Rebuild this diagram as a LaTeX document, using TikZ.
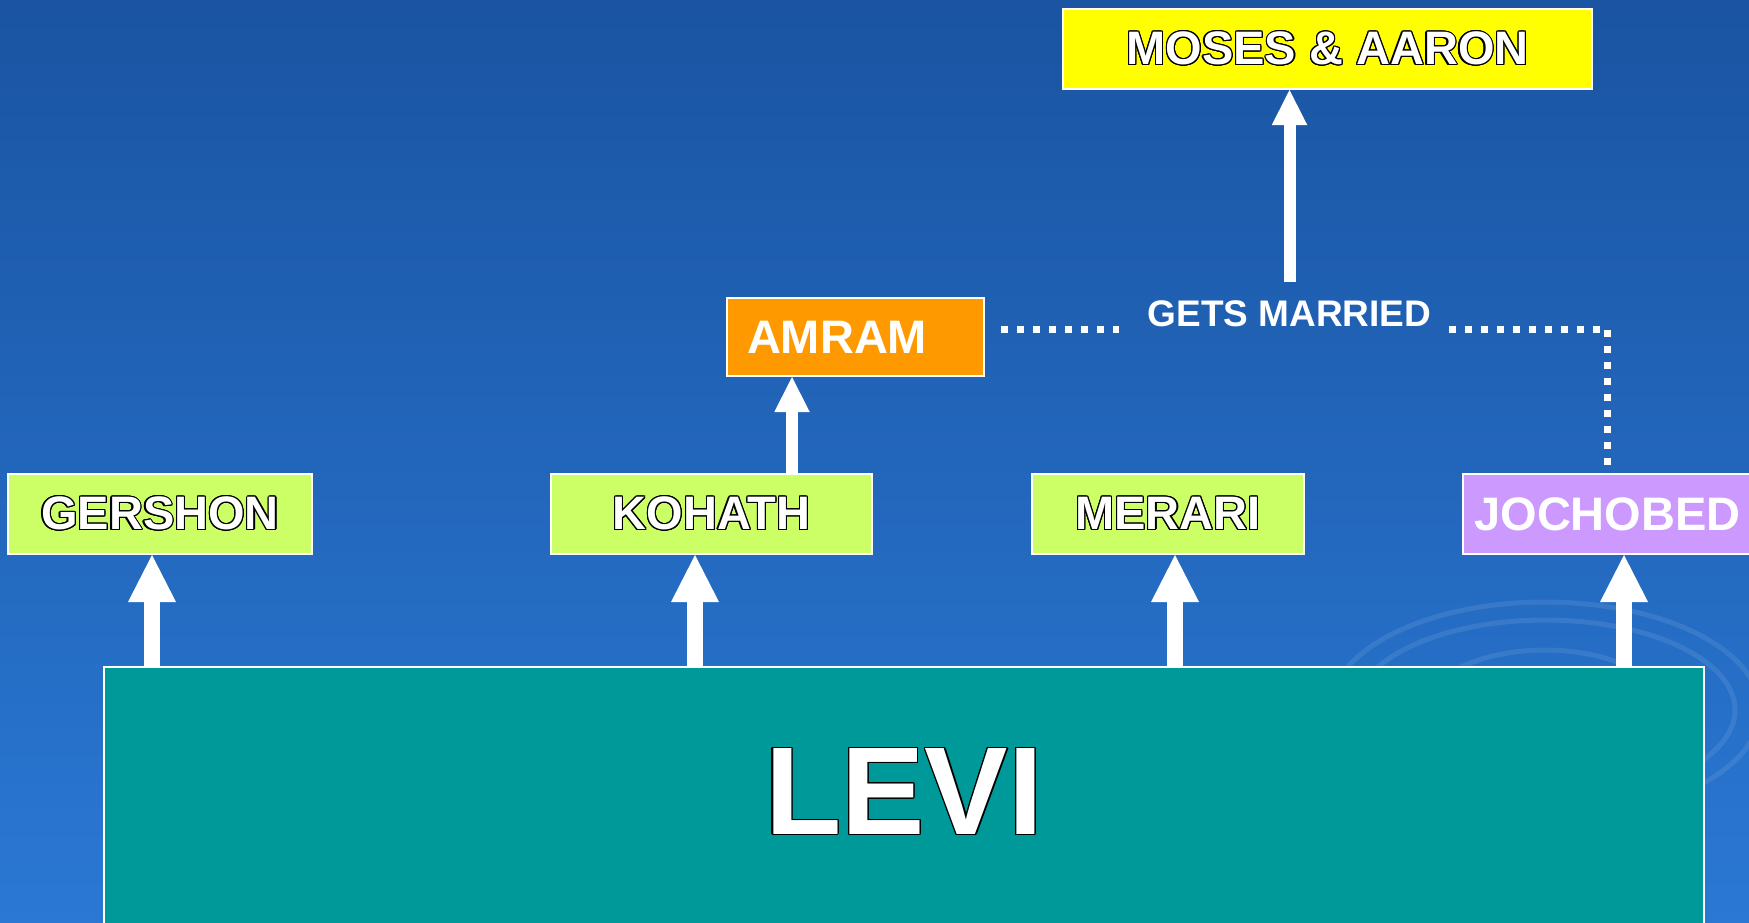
\documentclass[tikz,border=0pt]{standalone}
\usepackage{fontspec}
\setmainfont{Liberation Sans}
\usepackage[copies]{contour}
\contourlength{0.6pt}
\usetikzlibrary{positioning,arrows.meta,calc}
\definecolor{bgtop}{HTML}{1A54A2}
\definecolor{bgmid}{HTML}{1D5CAD}
\definecolor{bgbot}{HTML}{2A78D4}
\definecolor{leaf}{HTML}{CCFF66}
\definecolor{amber}{HTML}{FF9900}
\definecolor{lilac}{HTML}{CC99FF}
\definecolor{gold}{HTML}{FFFF00}
\definecolor{levicol}{HTML}{009999}
\tikzstyle{namebox} = [draw=white,line width=1pt,minimum height=40pt,inner sep=0pt,font=\bfseries\fontsize{23.5}{28}\selectfont]
\tikzstyle{son} = [namebox,fill=leaf]
\tikzstyle{bigarrow} = [white,line width=8pt,-{Triangle[width=24pt,length=23.5pt,line width=0pt]}]
\tikzstyle{smallarrow} = [white,line width=6pt,-{Triangle[width=17.75pt,length=17.5pt,line width=0pt]}]
\tikzstyle{wed} = [white,line width=3.5pt,dash pattern=on 3.5pt off 4.5pt]
\newcommand{\outl}[1]{\contour{black}{\textcolor{white}{#1}}}

\begin{document}
\begin{tikzpicture}[x=0.5pt,y=-0.5pt]
    \useasboundingbox (0,0) rectangle (1749,922);
    \clip (0,0) rectangle (1749,922);
    \shade[top color=bgtop,middle color=bgmid,bottom color=bgbot] (0,0) rectangle (1749,922);
    \foreach \rx/\ry in {107.5/54,95/45,60/30}
        \draw[white,opacity=.09,line width=2.5pt] (1545,710) ellipse ({\rx pt} and {\ry pt});

    \node[son,minimum width=152pt](gershon) at (160,514){\outl{GERSHON}};
    \node[son,minimum width=160.5pt](kohath) at (711.5,514){\outl{KOHATH}};
    \node[son,minimum width=136pt](merari) at (1168,514){\outl{MERARI}};
    \node[namebox,fill=lilac,text=white,minimum width=144.5pt](jochobed) at (1607.5,514){JOCHOBED};
    \node[namebox,fill=amber,text=white,minimum height=39pt,inner xsep=10pt,text width=108.5pt,align=left](amram) at (855.5,337){AMRAM};
    \node[namebox,fill=gold,minimum width=264.5pt](moses) at (1327.5,49){\outl{MOSES \& AARON}};
    \node[font=\bfseries\fontsize{18.5}{22}\selectfont,text=white,inner xsep=0pt,inner ysep=9pt](married) at (1289.5,313.5){GETS MARRIED};
    \node[draw=white,line width=1pt,fill=levicol,minimum width=800pt,minimum height=140pt,anchor=north](levi) at (904,666){};
    \node[font=\bfseries\fontsize{62.5}{75}\selectfont](levitext) at (904,792){\outl{LEVI}};

    \foreach \s/\d in {gershon/-4,kohath/-8.25,merari/3.5,jochobed/8.25}
        \draw[bigarrow] ($(\s.south |- levi.north)+(\d pt,0)$) -- ($(\s.south)+(\d pt,0)$);
    \draw[smallarrow] ($(kohath.north)+(40.25pt,0)$) -- ($(kohath.north |- amram.south)+(40.25pt,0)$);
    \draw[smallarrow] (married.north) -- (moses.south -| married.north);

    \draw[wed] ($(amram.east |- married.base)+(8pt,-1.5pt)$) -- ($(married.base west)+(-14pt,-1.5pt)$);
    \draw[wed] ($(married.base east)+(8.5pt,-1.5pt)$) -| ([yshift=4pt]jochobed.north);
\end{tikzpicture}
\end{document}
